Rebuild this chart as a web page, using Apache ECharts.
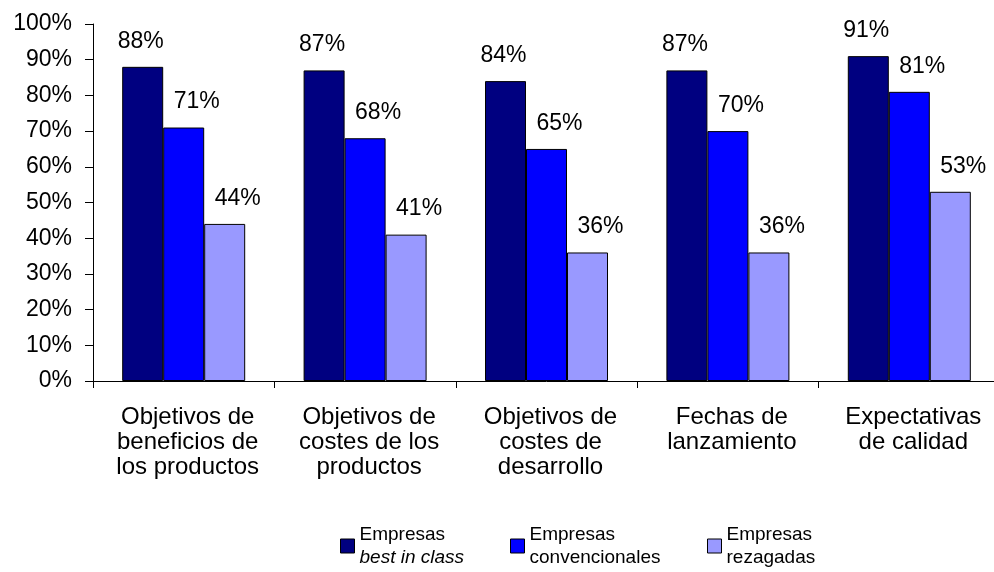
<!DOCTYPE html>
<html>
<head>
<meta charset="utf-8">
<script src="https://cdn.jsdelivr.net/npm/echarts@6/dist/echarts.min.js"></script>
<style>
  html, body { margin: 0; padding: 0; background: #fff; overflow: hidden; }
  /* plot area runs slightly past the right edge of the page */
  #chart { width: 1000px; height: 572px; }
</style>
</head>
<body>
<div id="chart"></div>
<script>
// Categories (x axis), multi-line labels
const categories = [
  'Objetivos de\nbeneficios de\nlos productos',
  'Objetivos de\ncostes de los\nproductos',
  'Objetivos de\ncostes de\ndesarrollo',
  'Fechas de\nlanzamiento',
  'Expectativas\nde calidad'
];

// Series values (percent)
const bestInClass    = [88, 87, 84, 87, 91];
const convencionales = [71, 68, 65, 70, 81];
const rezagadas      = [44, 41, 36, 36, 53];

// Y axis tick values
const yTicks = [0, 10, 20, 30, 40, 50, 60, 70, 80, 90, 100];

const seriesNames = ['Empresas best in class', 'Empresas convencionales', 'Empresas rezagadas'];
const seriesColors = ['#000080', '#0000FF', '#9999FF'];
const seriesData = [bestInClass, convencionales, rezagadas];
const labelOffsets = [-2, 13, 13];

const FONT = '"Liberation Sans", Arial, sans-serif';

const chart = echarts.init(document.getElementById('chart'), null, { renderer: 'canvas' });

// Two-line legend captions; the first one has an italic second line
const legendText = {
  'Empresas best in class': '{n|Empresas}\n{i|best in class}',
  'Empresas convencionales': '{n|Empresas}\n{n|convencionales}',
  'Empresas rezagadas': '{n|Empresas}\n{n|rezagadas}'
};
const legendLefts = [340, 510, 707];

const legends = seriesNames.map((name, i) => ({
  data: [name],
  left: legendLefts[i],
  top: 525,
  padding: 0,
  itemWidth: 14,
  itemHeight: 14,
  itemGap: 0,
  icon: 'rect',
  itemStyle: { borderColor: '#000', borderWidth: 1 },
  selectedMode: false,
  formatter: (n) => legendText[n],
  textStyle: {
    fontFamily: FONT,
    color: '#000',
    rich: {
      n: { fontFamily: FONT, fontSize: 19, lineHeight: 23, color: '#000' },
      i: { fontFamily: FONT, fontSize: 19, lineHeight: 23, fontStyle: 'italic', color: '#000' }
    }
  }
}));

chart.setOption({
  animation: false,
  backgroundColor: '#fff',
  legend: legends,
  grid: { left: 93, right: 0, top: 24, bottom: 191, containLabel: false },
  xAxis: {
    type: 'category',
    data: categories,
    axisLine: { lineStyle: { color: '#000', width: 1 } },
    axisTick: { show: true, length: 7, interval: 0, lineStyle: { color: '#000' } },
    axisLabel: {
      interval: 0,
      margin: 24,
      color: '#000',
      fontFamily: FONT,
      fontSize: 24,
      lineHeight: 25,
      padding: [0, 0, 0, 8]
    }
  },
  yAxis: {
    type: 'value',
    min: yTicks[0],
    max: yTicks[yTicks.length - 1],
    interval: yTicks[1] - yTicks[0],
    splitLine: { show: false },
    axisLine: { show: true, lineStyle: { color: '#000', width: 1 } },
    axisTick: { show: true, length: 8, lineStyle: { color: '#000' } },
    axisLabel: {
      margin: 21,
      color: '#000',
      fontFamily: FONT,
      fontSize: 23,
      formatter: (v) => v + '%'
    }
  },
  series: seriesNames.map((name, i) => ({
    name: name,
    type: 'bar',
    data: seriesData[i],
    barWidth: 41,
    barGap: '0%',
    itemStyle: { color: seriesColors[i], borderColor: '#000', borderWidth: 1 },
    label: {
      show: true,
      position: 'top',
      distance: 14,
      offset: [labelOffsets[i], 0],
      color: '#000',
      fontFamily: FONT,
      fontSize: 23,
      formatter: (p) => p.value + '%'
    }
  }))
});
</script>
</body>
</html>
